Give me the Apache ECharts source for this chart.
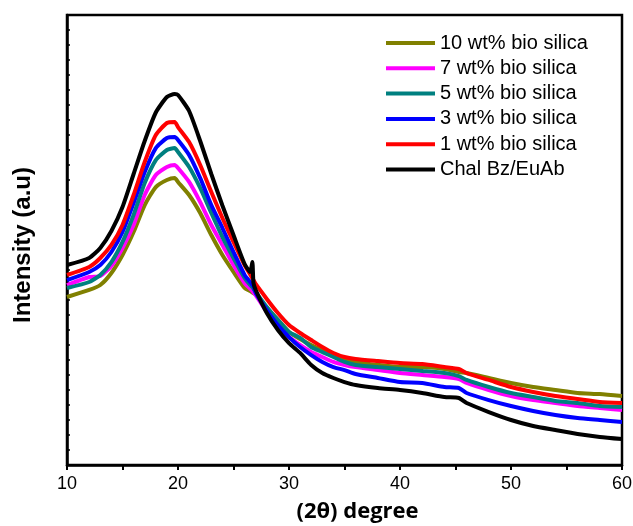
<!DOCTYPE html>
<html>
<head>
<meta charset="utf-8">
<script src="https://cdn.jsdelivr.net/npm/echarts@6/dist/echarts.min.js"></script>
<style>html,body{margin:0;padding:0;background:#fff}#c{width:633px;height:526px}</style>
</head>
<body>
<div id="c"></div>
<script>
var twoTheta = [10,12,13,14,15,16,17,18,19,19.7,20,21,22,23,24,25,26,26.5,26.7,26.8,27,28,29,30,31,32,33,34,35,36,38,40,42,44,45.3,46,48,50,52,54,56,58,60];
var seriesNames = ['10 wt% bio silica','7 wt% bio silica','5 wt% bio silica','3 wt% bio silica','1 wt% bio silica','Chal Bz/EuAb'];
var olive10 = [11.2,11.67,12.0,12.8,14.0,15.53,17.33,18.53,19.0,19.13,18.87,18.0,16.8,15.33,14.0,12.87,11.8,11.6,11.5,11.45,11.4,10.47,9.67,8.87,8.4,8.0,7.67,7.33,7.07,6.87,6.67,6.53,6.53,6.4,6.2,6.13,5.8,5.47,5.2,5.0,4.8,4.73,4.6];
var magenta7 = [12.0,12.53,12.6,13.27,14.47,16.0,18.0,19.33,19.87,20.0,19.8,18.87,17.53,16.0,14.67,13.33,12.13,11.75,11.6,11.5,11.33,10.2,9.33,8.53,8.0,7.53,7.2,6.87,6.67,6.53,6.33,6.13,6.0,5.87,5.73,5.47,5.0,4.6,4.33,4.13,3.93,3.8,3.67];
var teal5 = [11.8,12.2,12.67,13.53,14.87,16.67,18.8,20.33,21.0,21.13,20.87,19.87,18.47,16.8,15.2,13.8,12.47,12.0,11.85,11.75,11.53,10.53,9.67,8.87,8.47,7.87,7.53,7.2,6.87,6.67,6.53,6.4,6.27,6.13,5.93,5.67,5.2,4.8,4.53,4.27,4.13,3.93,3.87];
var blue3 = [12.33,12.87,13.33,14.2,15.53,17.47,19.53,21.13,21.8,21.87,21.67,20.67,19.13,17.33,15.8,14.2,12.67,12.2,12.0,11.9,11.47,10.33,9.33,8.53,7.87,7.33,6.87,6.53,6.33,6.07,5.8,5.53,5.47,5.2,5.13,4.8,4.33,3.93,3.6,3.33,3.13,3.0,2.87];
var red1 = [12.67,13.2,13.8,14.67,16.0,18.0,20.2,22.0,22.8,22.87,22.53,21.53,20.0,18.2,16.47,14.87,13.33,12.7,12.45,12.33,12.07,11.07,10.13,9.33,8.8,8.33,7.87,7.47,7.2,7.07,6.93,6.8,6.73,6.53,6.4,6.13,5.67,5.2,4.87,4.6,4.4,4.2,4.13];
var chal = [13.33,13.8,14.47,15.6,17.2,19.4,21.6,23.5,24.53,24.73,24.67,23.6,21.6,19.4,17.3,15.33,13.4,12.87,13.53,12.13,11.67,10.13,9.0,8.13,7.47,6.67,6.13,5.8,5.53,5.33,5.13,5.0,4.8,4.53,4.47,4.13,3.53,3.0,2.6,2.33,2.07,1.87,1.73];
var xTicks = [10,20,30,40,50,60];
var colors = ['#808000','#ff00ff','#008080','#0000ff','#ff0000','#000000'];
var values = [olive10, magenta7, teal5, blue3, red1, chal];

function pairs(v){ return twoTheta.map(function(t,i){ return [t, v[i]]; }); }

var chart = echarts.init(document.getElementById('c'), null, {renderer:'canvas'});
chart.setOption({
  animation:false,
  backgroundColor:'#fff',
  grid:{left:67,right:11,top:15,bottom:61,outerBoundsMode:'none',containLabel:false,show:true,borderColor:'#000',borderWidth:2.5,backgroundColor:'transparent'},
  legend:{
    orient:'vertical', left:386, top:33, padding:0, itemGap:5.3,
    itemWidth:49, itemHeight:4, icon:'rect',
    data:seriesNames,
    textStyle:{fontFamily:'Liberation Sans, Arial, sans-serif', fontSize:20, color:'#000', lineHeight:20}
  },
  xAxis:{
    type:'value', min:xTicks[0], max:xTicks[xTicks.length-1], interval:10,
    name:'(2θ) degree', nameLocation:'middle', nameGap:36,
    nameTextStyle:{fontFamily:'Open Sans, Noto Sans, sans-serif', fontWeight:'bold', fontSize:22, color:'#000', padding:[0,0,0,26]},
    axisLine:{show:true,lineStyle:{color:'#000',width:2.5}},
    axisTick:{show:true,inside:false,length:5,lineStyle:{color:'#000',width:2}},
    minorTick:{show:true,splitNumber:2,length:5,lineStyle:{color:'#000',width:2}},
    axisLabel:{fontFamily:'Liberation Sans, Arial, sans-serif', fontSize:18, color:'#000', margin:10},
    splitLine:{show:false}
  },
  yAxis:{
    type:'value', min:0, max:30, interval:1,
    name:'Intensity (a.u)', nameLocation:'middle', nameGap:32, nameRotate:90,
    nameTextStyle:{fontFamily:'Liberation Sans, Arial, sans-serif', fontWeight:'bold', fontSize:24, color:'#000', padding:[0,0,0,-10]},
    axisLine:{show:true,lineStyle:{color:'#000',width:2.5}},
    axisTick:{show:true,inside:true,length:3,lineStyle:{color:'#000',width:1.5}},
    axisLabel:{show:false},
    splitLine:{show:false}
  },
  series: values.map(function(v,i){
    return {
      name:seriesNames[i], type:'line', data:pairs(v), showSymbol:false, symbol:'none',
      smooth:0.2, lineStyle:{color:colors[i], width:4}, itemStyle:{color:colors[i]}, clip:true
    };
  })
});
</script>
</body>
</html>
